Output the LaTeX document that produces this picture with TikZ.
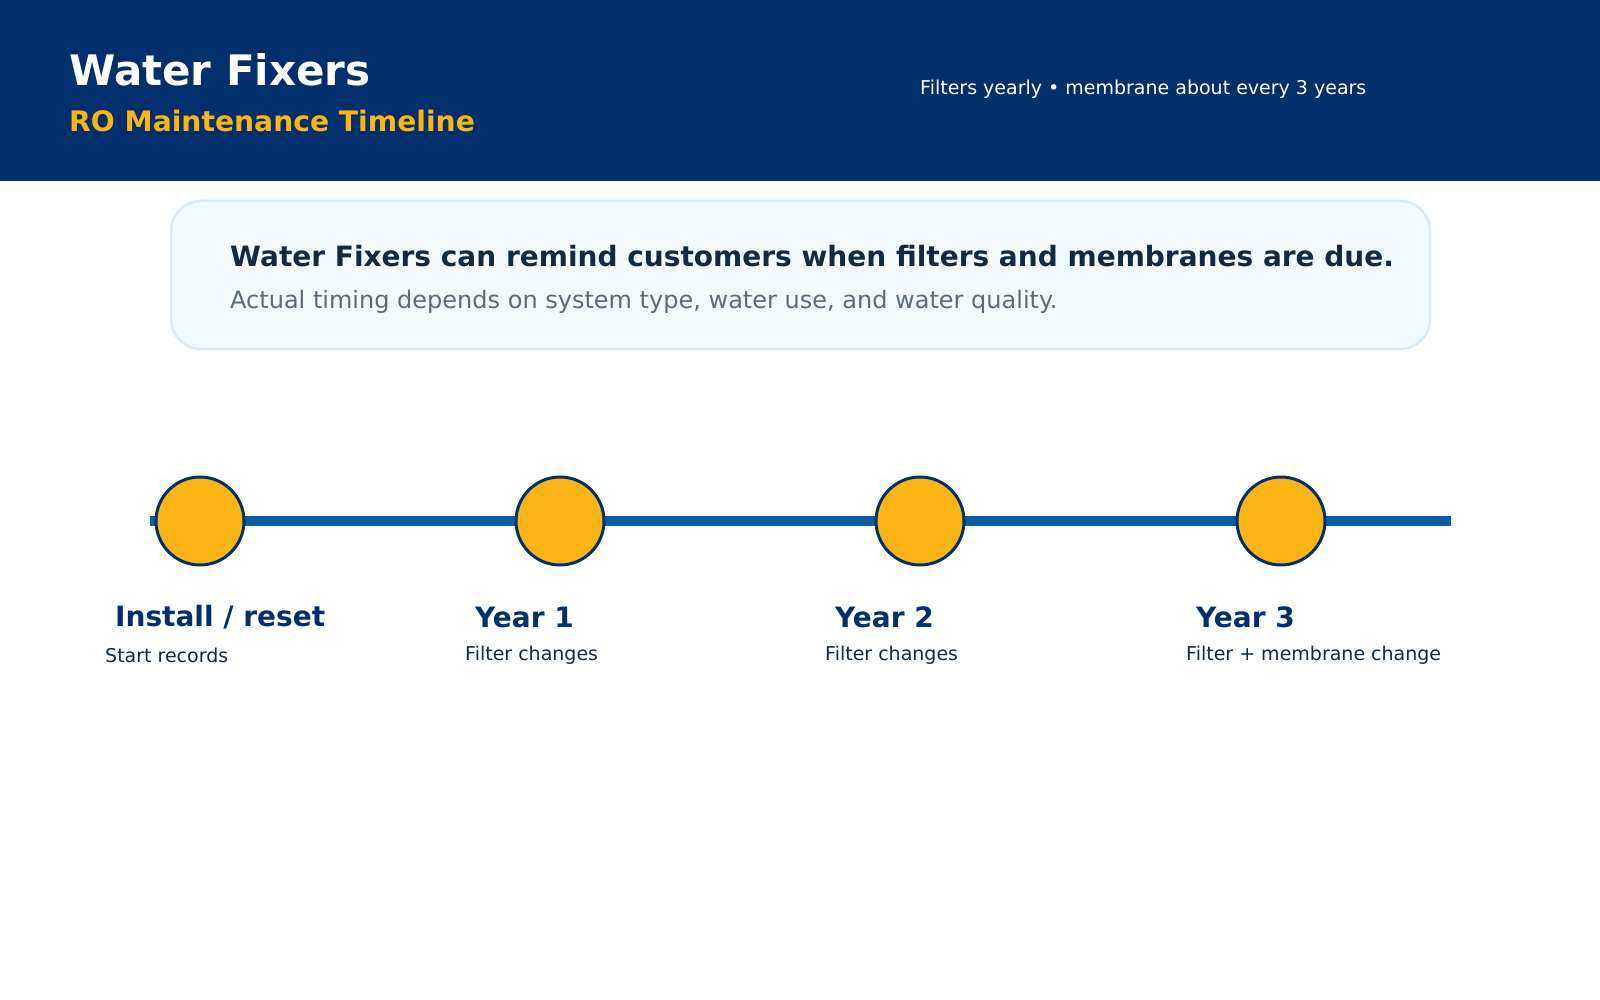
\documentclass[tikz,border=0pt]{standalone}
\usepackage{fontspec}
\setmainfont{DejaVu Sans}
\definecolor{navy}{HTML}{002F6C}
\definecolor{gold}{HTML}{FDB515}
\definecolor{ink}{HTML}{102A43}
\definecolor{grayt}{HTML}{5B6B7B}
\definecolor{lineblue}{HTML}{0A5CA3}
\definecolor{boxfill}{HTML}{F2FAFD}
\definecolor{boxline}{HTML}{D6EAF8}
\begin{document}
\begin{tikzpicture}[x=1pt,y=-1pt,
  dot/.style={circle,fill=gold,draw=navy,line width=3pt,minimum size=88pt,inner sep=0pt},
  yr/.style={anchor=west,inner sep=0pt,text=navy,font=\bfseries\fontsize{28}{32}\selectfont},
  sub/.style={anchor=west,inner sep=0pt,text=ink,font=\fontsize{19}{23}\selectfont}]
\useasboundingbox (0,0) rectangle (1600,1000);
\fill[navy] (0,0) rectangle (1600,181);
\node[anchor=west,inner sep=0pt,text=white,font=\bfseries\fontsize{42}{48}\selectfont] (t) at (69,70) {Water Fixers};
\node[anchor=west,inner sep=0pt,text=gold,font=\bfseries\fontsize{28.2}{32}\selectfont] (st) at (69,121) {RO Maintenance Timeline};
\node[anchor=west,inner sep=0pt,text=white,font=\fontsize{19}{23}\selectfont] (rt) at (920,89) {Filters yearly • membrane about every 3 years};
\draw[boxline,fill=boxfill,line width=2.5pt,rounded corners=30pt] (171,201) rectangle (1430,349);
\node[anchor=west,inner sep=0pt,text=ink,font=\bfseries\fontsize{28}{32}\selectfont] (b1) at (230,256) {Water Fixers can remind customers when filters and membranes are due.};
\node[anchor=west,inner sep=0pt,text=grayt,font=\fontsize{24}{28}\selectfont] (b2) at (230,302) {Actual timing depends on system type, water use, and water quality.};
\coordinate (ls) at (150,521);
\coordinate (le) at (1451,521);
\draw[lineblue,line width=10pt] (ls) -- (le);
\foreach \x/\n/\a/\b in {200/c0/{Install / reset}/Start records,560/c1/Year 1/Filter changes,920/c2/Year 2/Filter changes,1281/c3/Year 3/Filter + membrane change}{
  \node[dot] (\n) at (\x,521) {};
  \node[yr] (\n l) at (\x-85,617) {\a};
  \node[sub] (\n s) at (\x-95,655) {\b};
}
\end{tikzpicture}
\end{document}
